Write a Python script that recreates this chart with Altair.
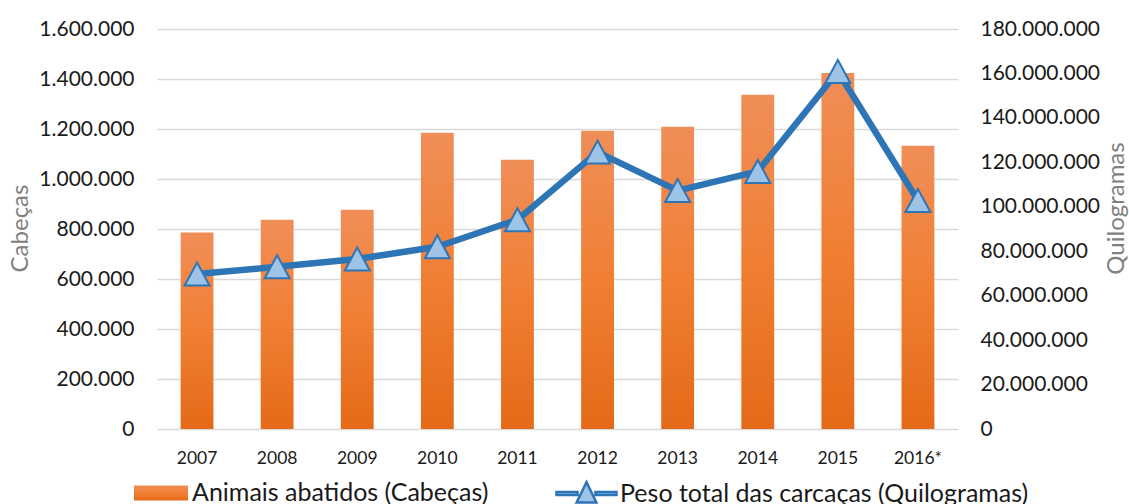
import altair as alt
import pandas as pd

# Abates por ano: cabeças (barras, eixo esquerdo) e peso das carcaças (linha, eixo direito)
anos = ["2007", "2008", "2009", "2010", "2011", "2012", "2013", "2014", "2015", "2016*"]
cabecas = [786000, 837000, 877000, 1185000, 1077000, 1193000, 1209000, 1337000, 1424000, 1133000]
quilogramas = [69700000, 73000000, 76500000, 82000000, 94200000, 124600000, 107300000, 115900000, 160900000, 102800000]

serie_barras = "Animais abatidos (Cabeças)"
serie_linha = "Peso total das carcaças (Quilogramas)"

ticks_cabecas = list(range(0, 1600001, 200000))
ticks_quilos = list(range(0, 180000001, 20000000))

df = pd.DataFrame({
    "ano": anos,
    "cabecas": cabecas,
    "quilogramas": quilogramas,
    "serie_barras": serie_barras,
    "serie_linha": serie_linha,
})

FONTE = "Lato"
AZUL = "#2E75B6"
AZUL_CLARO = "#9DC3E6"
CINZA = "#808080"
TEXTO = "#1a1a1a"

# separador de milhares com ponto
fmt_pt = "replace(format(datum.value, ','), regexp(',', 'g'), '.')"

gradiente = {
    "gradient": "linear",
    "x1": 0, "x2": 0, "y1": 0, "y2": 1,
    "stops": [
        {"offset": 0, "color": "#F08E58"},
        {"offset": 0.5, "color": "#F07F33"},
        {"offset": 1, "color": "#E46A18"},
    ],
}

eixo_x = alt.X(
    "ano:N",
    sort=anos,
    scale=alt.Scale(paddingInner=0.59, paddingOuter=0.295),
    axis=alt.Axis(
        title=None, labelAngle=0, domain=False, ticks=False,
        labelPadding=20, labelFontSize=17.5, labelFont=FONTE, labelColor=TEXTO,
    ),
)

barras = alt.Chart(df).mark_bar(fill=gradiente).encode(
    x=eixo_x,
    y=alt.Y(
        "cabecas:Q",
        scale=alt.Scale(domain=[0, 1600000], nice=False, zero=True),
        axis=alt.Axis(
            title="Cabeças", values=ticks_cabecas, labelExpr=fmt_pt,
            domain=False, ticks=False, grid=True, gridColor="#D9D9D9", gridWidth=1.5,
            labelPadding=23, labelFontSize=21, labelFont=FONTE, labelColor=TEXTO,
            titleFont=FONTE, titleFontSize=24, titleFontWeight="normal", titleColor=CINZA,
            titleAngle=270, titleAlign="center", titleBaseline="middle",
            titleX=-137, titleY=199,
        ),
    ),
    opacity=alt.Opacity(
        "serie_barras:N",
        scale=alt.Scale(range=[1]),
        legend=alt.Legend(
            title=None, orient="none", legendX=-23, legendY=437,
            symbolType="M-1,-0.28H1V0.28H-1Z", symbolSize=2916, symbolStrokeWidth=0,
            labelFont=FONTE, labelFontSize=25, labelColor=TEXTO, labelOffset=4,
            labelLimit=600, padding=0,
        ),
    ),
)

# linha e marcadores partilham o eixo direito
base_peso = alt.Chart(df).encode(
    x=eixo_x,
    y=alt.Y(
        "quilogramas:Q",
        scale=alt.Scale(domain=[0, 180000000], nice=False, zero=True),
        axis=alt.Axis(
            title="Quilogramas", orient="right", values=ticks_quilos, labelExpr=fmt_pt,
            domain=False, ticks=False, grid=False,
            labelPadding=22, labelFontSize=21, labelFont=FONTE, labelColor=TEXTO,
            titleFont=FONTE, titleFontSize=24, titleFontWeight="normal", titleColor=CINZA,
            titleAngle=270, titleAlign="center", titleBaseline="middle",
            titleX=158, titleY=179,
        ),
    ),
)

linha = base_peso.mark_line(color=AZUL, strokeWidth=6.5, strokeJoin="round")

pontos = base_peso.mark_point(
    shape="M0,-0.92L-1,0.92L1,0.92Z", size=625, filled=True,
    fill=AZUL_CLARO, strokeWidth=2, opacity=1,
).encode(
    stroke=alt.Stroke(
        "serie_linha:N",
        scale=alt.Scale(range=[AZUL]),
        legend=alt.Legend(
            title=None, orient="none", legendX=398, legendY=433,
            symbolType="M-1,-0.05H-0.3V0.05H-1Z M0.3,-0.05H1V0.05H0.3Z M-0.33,0.3L0,-0.38L0.33,0.3Z",
            symbolSize=3600, symbolStrokeWidth=2.5, symbolOpacity=1,
            labelFont=FONTE, labelFontSize=25, labelColor=TEXTO, labelOffset=2,
            labelLimit=600, padding=0,
        ),
    ),
)

chart = alt.layer(
    barras,
    alt.layer(linha, pontos),
).resolve_scale(
    y="independent"
).properties(
    width=801,
    height=400,
    padding={"left": 157, "right": 171, "top": 29, "bottom": 75},
    autosize=alt.AutoSizeParams(type="none"),
).configure_view(
    stroke=None
)

chart.save("out.html", embed_options={"renderer": "svg", "actions": False})
